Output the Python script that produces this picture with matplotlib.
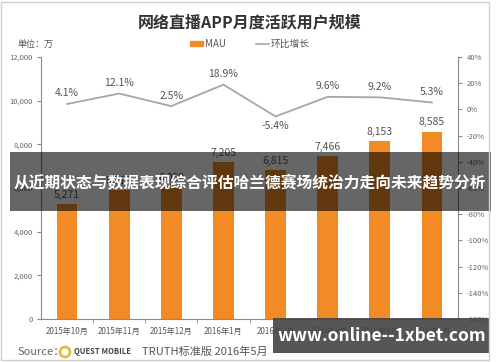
import matplotlib
matplotlib.use("Agg")
import matplotlib.pyplot as plt
from matplotlib.patches import Rectangle, Ellipse
from matplotlib.lines import Line2D
from matplotlib.patches import Patch

plt.rcParams['font.family'] = ['Noto Sans CJK SC', 'DejaVu Sans']

months = ["2015年10月", "2015年11月", "2015年12月", "2016年1月",
          "2016年2月", "2016年3月", "2016年4月", "2016年5月"]
mau = [5271, 5910, 6059, 7205, 6815, 7466, 8153, 8585]
growth = [4.1, 12.1, 2.5, 18.9, -5.4, 9.6, 9.2, 5.3]
left_ticks = [0, 2000, 4000, 6000, 8000, 10000, 12000]
right_ticks = [-160, -140, -120, -100, -80, -60, -40, -20, 0, 20, 40]

W, H = 500, 362
fig = plt.figure(figsize=(W / 100, H / 100), dpi=100)

def fx(px):
    return px / W

def fy(py):
    return 1 - py / H

ax = fig.add_axes([fx(41), fy(319), fx(458) - fx(41), fy(57) - fy(319)])
ax2 = ax.twinx()

grey = "#8a8a8a"
x = list(range(len(months)))
ax.bar(x, mau, width=0.4, color="#F28A25", zorder=2)
for xi, v in zip(x, mau):
    ax.annotate(f"{v:,}", (xi, v), xytext=(0, 3), textcoords="offset points",
                ha="center", va="bottom", fontsize=7.5, color="#555555")

ax.set_xlim(-0.5, len(months) - 0.5)
ax.set_ylim(0, 12000)
ax.set_yticks(left_ticks)
ax.set_yticklabels([f"{t:,}" for t in left_ticks], fontsize=5.5, color="#666666")
ax.set_xticks(x)
ax.set_xticklabels(months, fontsize=5.8, color="#555555")
ax.tick_params(axis="x", length=0, pad=6)
ax.set_xticks([i + 0.5 for i in x[:-1]], minor=True)
ax.tick_params(axis="x", which="minor", length=3, color=grey)
ax.tick_params(axis="y", length=3, color=grey, pad=3)
for s in ["top", "right"]:
    ax.spines[s].set_visible(False)
ax.spines["left"].set_color(grey)
ax.spines["bottom"].set_color(grey)

ax2.plot(x, growth, color="#A6A6A6", lw=1.3, zorder=3)
for xi, g in zip(x, growth):
    if g < 0:
        ax2.annotate(f"{g}%", (xi, g), xytext=(0, -7), textcoords="offset points",
                     ha="center", va="center", fontsize=7.5, color="#555555")
    else:
        ax2.annotate(f"{g}%", (xi, g), xytext=(0, 4), textcoords="offset points",
                     ha="center", va="bottom", fontsize=7.5, color="#555555")
ax2.set_ylim(-160, 40)
ax2.set_yticks(right_ticks)
ax2.set_yticklabels([f"{t}%" for t in right_ticks], fontsize=5.5, color="#666666")
ax2.tick_params(axis="y", length=3, color=grey, pad=3)
for s in ["top", "left", "bottom"]:
    ax2.spines[s].set_visible(False)
ax2.spines["right"].set_color(grey)

# title and legend
fig.text(0.5, fy(22), "网络直播APP月度活跃用户规模", ha="center", va="center",
         fontsize=11.5, fontweight="bold", color="#333333")
fig.text(fx(18), fy(44), "单位：万", ha="left", va="center", fontsize=6.5, color="#555555")
handles = [Patch(color="#F28A25", label="MAU"),
           Line2D([0], [0], color="#A6A6A6", lw=1.2, label="环比增长")]
fig.legend(handles=handles, loc="center", bbox_to_anchor=(0.5, fy(44)), ncol=2,
           frameon=False, fontsize=7, handlelength=1.4, handleheight=0.5,
           columnspacing=3, handletextpad=0.2, labelcolor="#555555")

# source line
fig.text(fx(18), fy(352), "Source：", ha="left", va="center", fontsize=8, color="#666666")
fig.patches.append(Ellipse((fx(65), fy(352)), fx(10), 10 / H, transform=fig.transFigure,
                           facecolor="none", edgecolor="#E8B84A", lw=2))
fig.text(fx(74), fy(352), "QUEST MOBILE", ha="left", va="center", fontsize=5.5,
         fontweight="bold", color="#444444")
fig.text(fx(142), fy(352), "TRUTH标准版 2016年5月", ha="left", va="center",
         fontsize=8, color="#555555")

# overlay banner
fig.patches.append(Rectangle((fx(10), fy(211)), fx(491) - fx(10), fy(152) - fy(211),
                             transform=fig.transFigure, facecolor="black", alpha=0.6,
                             edgecolor="none", zorder=10))
fig.text(0.5, fy(182), "从近期状态与数据表现综合评估哈兰德赛场统治力走向未来趋势分析",
         ha="center", va="center", fontsize=11.3, fontweight="bold", color="white", zorder=11)

# watermark box
fig.patches.append(Rectangle((fx(273), fy(353)), fx(490) - fx(273), fy(318) - fy(353),
                             transform=fig.transFigure, facecolor="#444444", alpha=0.9,
                             edgecolor="none", zorder=10))
fig.text(fx(382), fy(336), "www.online--1xbet.com", ha="center", va="center",
         fontsize=12.5, fontweight="bold", color="white", zorder=11)

# image border
fig.patches.append(Rectangle((fx(1), fy(360)), fx(489) - fx(1), fy(2) - fy(360),
                             transform=fig.transFigure, facecolor="none",
                             edgecolor="#d0d0d0", lw=1, zorder=12))

fig.savefig("out.png", dpi=100)
